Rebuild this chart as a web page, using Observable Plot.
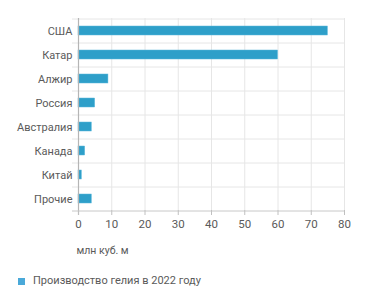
<!DOCTYPE html>
<html>
<head>
<meta charset="utf-8">
<script src="https://cdn.jsdelivr.net/npm/d3@7"></script>
<script src="https://cdn.jsdelivr.net/npm/@observablehq/plot@0.6"></script>
<style>
  body { margin: 0; background: #fff; font-family: Roboto, sans-serif; }
  #chart svg { display: block; }
  .legend { position: relative; height: 38px; font-size: 11px; color: #5a5a5a; }
  .legend .sw { position: absolute; left: 18px; top: 13px; width: 7px; height: 7px; background: #4aa9d9; }
  .legend .lb { position: absolute; left: 33px; top: 7px; line-height: 18px; }
</style>
</head>
<body>
<div id="chart"></div>
<div class="legend"><span class="sw"></span><span class="lb" id="lb"></span></div>
<script>
const countries = ["США", "Катар", "Алжир", "Россия", "Австралия", "Канада", "Китай", "Прочие"];
const values = [75, 60, 9, 5, 4, 2, 1, 4];
const xTicks = [0, 10, 20, 30, 40, 50, 60, 70, 80];
const unitLabel = ["млн куб. м"];
const seriesName = "Производство гелия в 2022 году";

const data = countries.map((c, i) => ({country: c, value: values[i]}));
const lastCat = [countries[countries.length - 1]];

const chart = Plot.plot({
  width: 371,
  height: 265,
  marginLeft: 78,
  marginRight: 27,
  marginTop: 18,
  marginBottom: 55,
  style: {fontFamily: "Roboto, sans-serif", fontSize: "11px", color: "#5a5a5a", background: "#fff"},
  x: {domain: [0, 80]},
  y: {domain: countries, paddingInner: 0.64, paddingOuter: 0.32, align: 0.5},
  marks: [
    Plot.ruleX(xTicks, {stroke: "#e6e6e6", strokeWidth: 1}),
    Plot.ruleY(countries, {y: d => d, dy: -12, stroke: "#e6e6e6", insetLeft: -6}),
    Plot.ruleY(lastCat, {y: d => d, dy: 12, stroke: "#c8c8c8", insetLeft: -6}),
    Plot.barX(data, {x: "value", y: "country", fill: "#2e9fc9", stroke: "#5bb8dc", strokeWidth: 0.5}),
    Plot.ruleX([0], {stroke: "#b5b5b5", strokeWidth: 1.2, insetBottom: -5}),
    Plot.axisY({tickSize: 0, tickPadding: 6, fontSize: 11, label: null}),
    Plot.axisX({ticks: xTicks, tickSize: 5, stroke: "#c0c0c0", tickPadding: 4, fontSize: 11.5, label: null}),
    Plot.text(unitLabel, {text: d => d, frameAnchor: "bottom-left", textAnchor: "start", dx: -2, dy: 43, fontSize: 10.5, fill: "#5a5a5a"})
  ]
});
document.getElementById("chart").append(chart);
document.getElementById("lb").textContent = seriesName;
</script>
</body>
</html>
